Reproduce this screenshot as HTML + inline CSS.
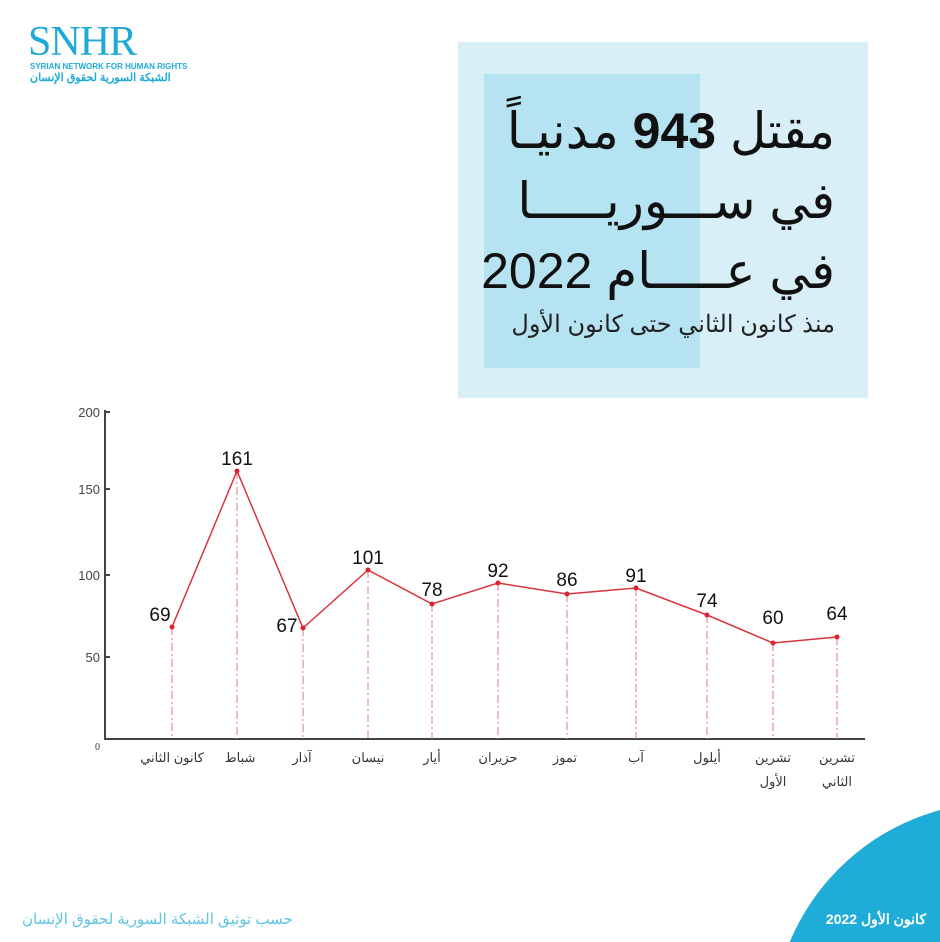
<!DOCTYPE html>
<html style="overflow:hidden"><head><meta charset="utf-8">
<style>
html,body{margin:0;width:940px;height:942px;overflow:hidden}
body{background:#fff;position:relative;font-family:"Liberation Sans","Noto Sans CJK SC",sans-serif}
.a{position:absolute}
</style></head><body>
<div class="a" style="left:458px;top:42px;width:410px;height:356px;background:#d8eff7"></div>
<div class="a" style="left:484px;top:74px;width:216px;height:294px;background:#b6e3f2"></div>
<div class="a" dir="rtl" style="right:105px;top:96px;font-size:50px;line-height:70px;color:#111;text-align:right;white-space:nowrap">مقتل <b>943</b> مدنيـاً<br>في ســـوريـــــا<br>في عـــــام 2022</div>
<div class="a" dir="rtl" style="right:105px;top:310px;font-size:24px;color:#222;white-space:nowrap">منذ كانون الثاني حتى كانون الأول</div>

<div class="a" style="left:28px;top:22px;font-family:'Liberation Serif',serif;font-size:42px;color:#1fa9d6;letter-spacing:-1px;line-height:40px">SNHR</div>
<div class="a" style="left:30px;top:62px;font-size:8px;color:#1fa9d6;font-weight:bold">SYRIAN NETWORK FOR HUMAN RIGHTS</div>
<div class="a" dir="rtl" style="left:30px;top:71px;font-size:11px;color:#1fa9d6;font-weight:bold">الشبكة السورية لحقوق الإنسان</div>

<svg class="a" style="left:0;top:0;display:block" width="940" height="942">
<g stroke="#444" stroke-width="2" fill="none">
<path d="M105 410V739H865"/>
<path d="M105 412h5M105 489h5M105 575h5M105 657h5"/>
</g>
<g font-size="13" fill="#444" text-anchor="end" font-family="Liberation Sans">
<text x="100" y="417">200</text><text x="100" y="494">150</text><text x="100" y="580">100</text><text x="100" y="662">50</text>
</g>
<text x="95" y="750" font-size="10" font-family="Liberation Serif" fill="#333">0</text>
<g stroke="#e07a80" stroke-width="1" stroke-dasharray="8 3 2 3">
<path d="M172 627V739M237 471V739M303 628V739M368 570V739M432 604V739M498 583V739M567 594V739M636 588V739M707 615V739M773 643V739M837 637V739"/>
</g>
<polyline fill="none" stroke="#d9343f" stroke-width="1.5" points="172,627 237,471 303,628 368,570 432,604 498,583 567,594 636,588 707,615 773,643 837,637"/>
<g fill="#e0202a">
<circle cx="172" cy="627" r="2.5"/><circle cx="237" cy="471" r="2.5"/><circle cx="303" cy="628" r="2.5"/><circle cx="368" cy="570" r="2.5"/><circle cx="432" cy="604" r="2.5"/><circle cx="498" cy="583" r="2.5"/><circle cx="567" cy="594" r="2.5"/><circle cx="636" cy="588" r="2.5"/><circle cx="707" cy="615" r="2.5"/><circle cx="773" cy="643" r="2.5"/><circle cx="837" cy="637" r="2.5"/>
</g>
<g font-size="19" fill="#111" text-anchor="middle" font-family="Liberation Sans">
<text x="160" y="621">69</text><text x="237" y="465">161</text><text x="287" y="632">67</text><text x="368" y="564">101</text><text x="432" y="596">78</text><text x="498" y="577">92</text><text x="567" y="586">86</text><text x="636" y="582">91</text><text x="707" y="607">74</text><text x="773" y="624">60</text><text x="837" y="620">64</text>
</g>
<g font-size="13" fill="#333" text-anchor="middle" font-family="Liberation Sans, Noto Sans CJK SC, sans-serif">
<text x="172" y="762">كانون الثاني</text><text x="240" y="762">شباط</text><text x="302" y="762">آذار</text><text x="368" y="762">نيسان</text><text x="432" y="762">أيار</text><text x="498" y="762">حزيران</text><text x="565" y="762">تموز</text><text x="636" y="762">آب</text><text x="707" y="762">أيلول</text><text x="773" y="762">تشرين</text><text x="773" y="786">الأول</text><text x="837" y="762">تشرين</text><text x="837" y="786">الثاني</text>
</g>
<circle cx="1000" cy="1030" r="228" fill="#20acd8"/>
</svg>
<div class="a" dir="rtl" style="right:14px;top:911px;font-size:14px;font-weight:bold;color:#fff;white-space:nowrap">كانون الأول 2022</div>
<div class="a" dir="rtl" style="left:22px;top:910px;font-size:15px;color:#5ec3e4;white-space:nowrap">حسب توثيق الشبكة السورية لحقوق الإنسان</div>
</body></html>
